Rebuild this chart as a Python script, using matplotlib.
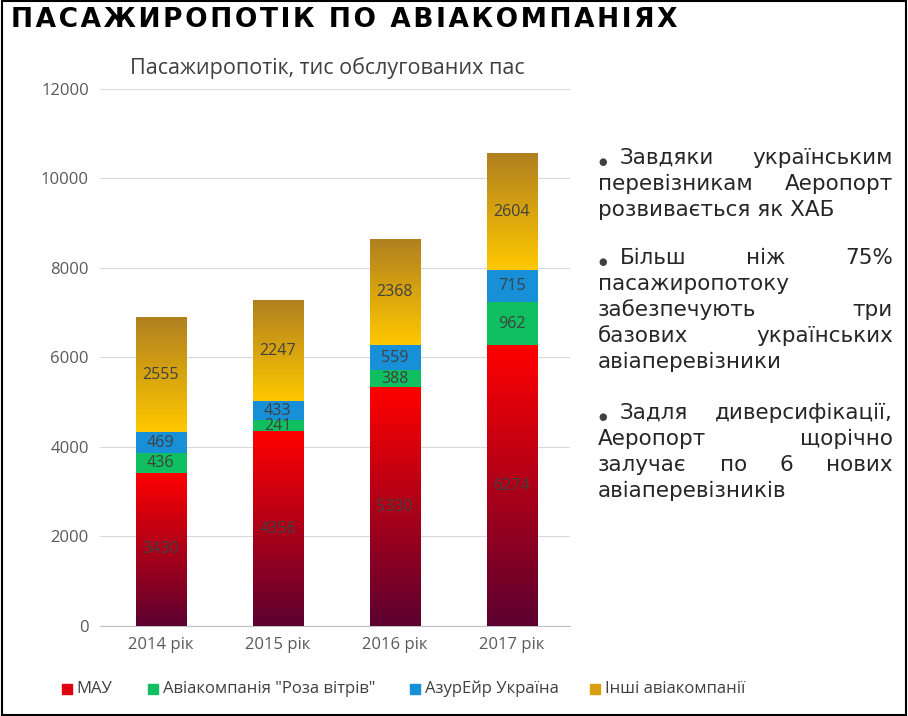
import numpy as np
import matplotlib
matplotlib.use("Agg")
import matplotlib.pyplot as plt
from matplotlib.colors import LinearSegmentedColormap
from matplotlib.patches import Rectangle

years = ["2014 рік", "2015 рік", "2016 рік", "2017 рік"]
mau = [3430, 4356, 5330, 6274]
roza = [436, 241, 388, 962]
azur = [469, 433, 559, 715]
other = [2555, 2247, 2368, 2604]
series_names = ["МАУ", "Авіакомпанія \"Роза вітрів\"", "АзурЕйр Україна", "Інші авіакомпанії"]
yticks = [0, 2000, 4000, 6000, 8000, 10000, 12000]

grads = [("#5c0030", "#ff0000"), ("#10c060", "#10c060"), ("#1890d8", "#1890d8"), ("#ffc800", "#b08020")]
solid = ["#e00010", "#10c060", "#1890d8", "#d8a010"]

fig = plt.figure(figsize=(9.08, 7.16), dpi=100)
fig.patches.append(Rectangle((0.002, 0.002), 0.996, 0.996, transform=fig.transFigure,
                             fill=False, edgecolor="black", linewidth=1.5))
ax = fig.add_axes([0.110, 0.1257, 0.518, 0.75])
font = "Open Sans"
x = np.arange(len(years))
w = 0.43
bottom = np.zeros(4)
for vals, (c0, c1), sc in zip([mau, roza, azur, other], grads, solid):
    bars = ax.bar(x, vals, w, bottom=bottom, color="none", edgecolor="none", zorder=3)
    cmap = LinearSegmentedColormap.from_list("g", [c0, c1])
    for b, v, bt in zip(bars, vals, bottom):
        x0 = b.get_x()
        ax.imshow(np.linspace(0, 1, 256).reshape(-1, 1), cmap=cmap, aspect="auto", origin="lower",
                  extent=[x0, x0 + w, bt, bt + v], zorder=3)
        ax.text(x0 + w / 2, bt + v / 2, str(v), ha="center", va="center", fontsize=11.5,
                color="#404040", family=font, zorder=5)
    bottom += np.array(vals)
ax.set_xlim(-0.52, 3.5)
ax.set_ylim(0, 12000)
ax.set_yticks(yticks)
ax.set_xticks(x)
ax.set_xticklabels(years)
for s in ["top", "right", "left"]:
    ax.spines[s].set_visible(False)
ax.spines["bottom"].set_color("#c0c0c0")
ax.grid(axis="y", color="#d9d9d9", linewidth=0.8, zorder=0)
ax.tick_params(length=0, labelsize=12, labelcolor="#595959", pad=8)
for t in ax.get_xticklabels() + ax.get_yticklabels():
    t.set_family(font)

title = "ПАСАЖИРОПОТІК ПО АВІАКОМПАНІЯХ"
fig.text(0.012, 0.972, "\u200a".join(title), fontsize=19, fontweight="bold",
         family="DejaVu Sans", va="center", ha="left")
fig.text(0.361, 0.905, "Пасажиропотік, тис обслугованих пас", fontsize=15.5, color="#404040",
         family=font, ha="center", va="center")

lx = [62, 148, 410, 590]
for xx, name, c in zip(lx, series_names, solid):
    fig.patches.append(Rectangle((xx / 908, 0.031), 0.011, 0.014, transform=fig.transFigure, color=c))
    fig.text(xx / 908 + 0.016, 0.038, name, fontsize=12, color="#404040", family=font, va="center")

paras = [["Завдяки українським", "перевізникам Аеропорт", "розвивається як ХАБ"],
         ["Більш ніж 75%", "пасажиропотоку", "забезпечують три", "базових українських", "авіаперевізники"],
         ["Задля диверсифікації,", "Аеропорт щорічно", "залучає по 6 нових", "авіаперевізників"]]
tops = [158, 258, 413]
fig.canvas.draw()
r = fig.canvas.get_renderer()
L, R = 598 / 908, 893 / 908
lh = 26
fs = 15.5
for p, top in zip(paras, tops):
    for i, line in enumerate(p):
        yy = 1 - (top + i * lh) / 716
        words = line.split()
        last = i == len(p) - 1
        start = L
        if i == 0:
            fig.text(L, yy - 4 / 716, "●", fontsize=7, color="#404040", va="center", ha="left")
            start = L + 22 / 908
        if last or len(words) == 1:
            fig.text(start, yy, " ".join(words), fontsize=fs, family="DejaVu Sans", color="#262626", va="center")
            continue
        ts = [fig.text(0, yy, wd, fontsize=fs, family="DejaVu Sans", color="#262626", va="center") for wd in words]
        ws = [t.get_window_extent(r).width / fig.bbox.width for t in ts]
        gap = (R - start - sum(ws)) / (len(words) - 1)
        cx = start
        for t, ww in zip(ts, ws):
            t.set_x(cx)
            cx += ww + gap

fig.savefig("out.png", dpi=100, facecolor="white")
